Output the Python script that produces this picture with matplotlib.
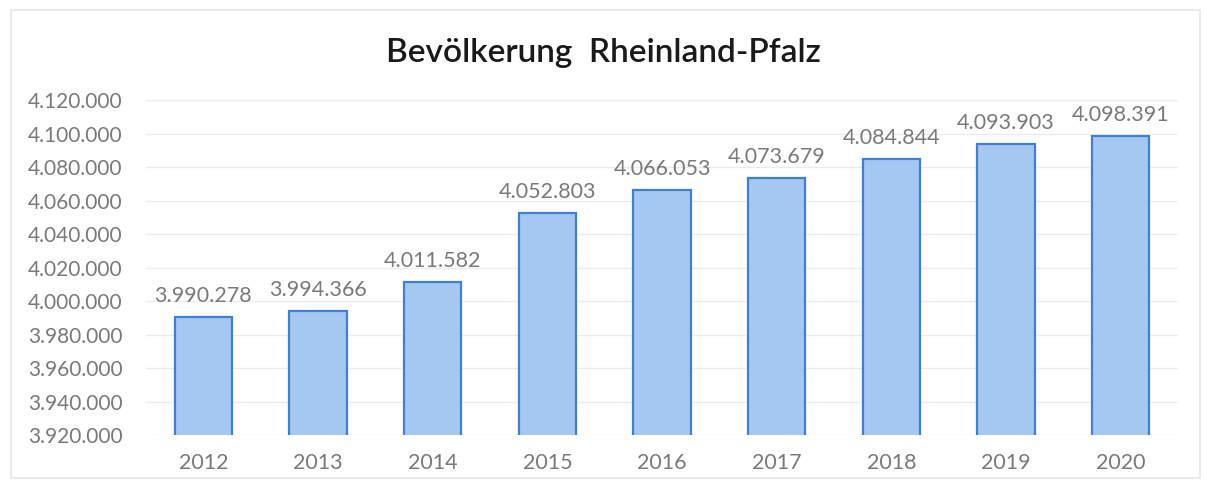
import matplotlib.pyplot as plt
from matplotlib.ticker import FuncFormatter

jahre = ["2012", "2013", "2014", "2015", "2016", "2017", "2018", "2019", "2020"]
bevoelkerung = [3990278, 3994366, 4011582, 4052803, 4066053, 4073679, 4084844, 4093903, 4098391]
y_ticks = list(range(3920000, 4120001, 20000))


def punkt_format(v, pos=None):
    return f"{int(v):,}".replace(",", ".")


plt.rcParams['font.family'] = ['Lato', 'DejaVu Sans']

fig = plt.figure(figsize=(12.07, 4.88), dpi=100)
ax = fig.add_axes([0.121, 0.108, 0.855, 0.687])

barras = ax.bar(jahre, bevoelkerung, width=0.5, bottom=0,
                color="#a4c8f2", edgecolor="#3f7fd6", linewidth=1.6, zorder=3)
ax.set_ylim(3920000, 4120000)
ax.set_xlim(-0.5, len(jahre) - 0.5)
ax.set_yticks(y_ticks)
ax.yaxis.set_major_formatter(FuncFormatter(punkt_format))
ax.grid(axis="y", color="#ececec", linewidth=1, zorder=0)

for b, v in zip(barras, bevoelkerung):
    ax.annotate(punkt_format(v), (b.get_x() + b.get_width() / 2, v),
                xytext=(0, 8), textcoords="offset points",
                ha="center", va="bottom", fontsize=15.5, color="#7a7a7a")

for s in ax.spines.values():
    s.set_visible(False)
ax.tick_params(axis="both", length=0, colors="#7a7a7a")
ax.tick_params(axis="x", pad=13, labelsize=15.5)
ax.tick_params(axis="y", pad=17, labelsize=15)

fig.text(0.5, 0.892, "Bevölkerung  Rheinland-Pfalz", ha="center", va="center",
         fontsize=24, fontweight="semibold", color="#1a1a1a")

fig.add_artist(plt.Rectangle((0.009, 0.02), 0.985, 0.96, transform=fig.transFigure,
                             fill=False, edgecolor="#e6e6e6", linewidth=1.2))

fig.savefig("out.png", dpi=100)
